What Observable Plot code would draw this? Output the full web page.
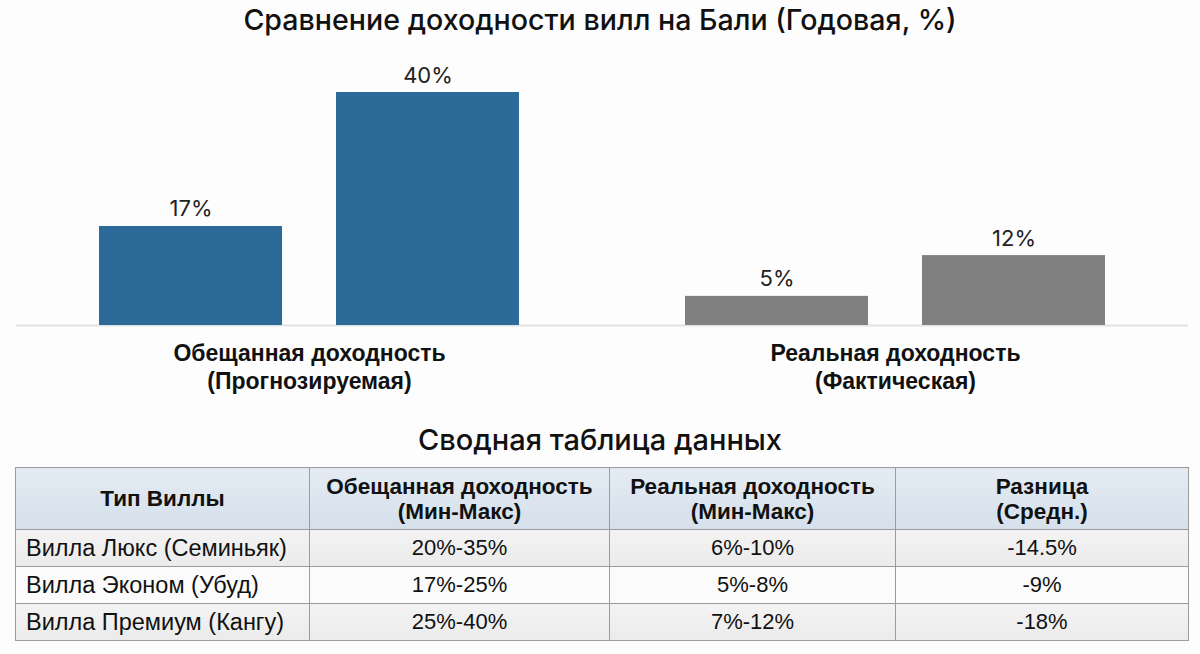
<!DOCTYPE html>
<html><head><meta charset="utf-8">
<script src="https://cdn.jsdelivr.net/npm/d3@7"></script>
<script src="https://cdn.jsdelivr.net/npm/@observablehq/plot@0.6"></script>
<style>
html,body{margin:0;padding:0;}
body{background:#fdfdfd;width:1200px;height:654px;position:relative;overflow:hidden;font-family:"Liberation Sans",Arial,sans-serif;color:#111;}
#title{position:absolute;left:0;top:0;width:1200px;height:44px;line-height:40px;text-align:center;font-family:Inter,sans-serif;font-weight:500;font-size:28.6px;color:#111;}
#chart{position:absolute;left:0;top:44px;}
#ttitle{position:absolute;left:0;top:412px;width:1200px;line-height:56px;text-align:center;font-family:Inter,sans-serif;font-weight:500;font-size:29px;color:#111;}
#tbl{position:absolute;left:15px;top:467px;border-collapse:collapse;table-layout:fixed;font-family:"Liberation Sans",Arial,sans-serif;}
#tbl td,#tbl th{border:1px solid #9c9c9c;padding:0;vertical-align:middle;}
#tbl th{height:61px;font-size:22.5px;font-weight:bold;line-height:25px;white-space:pre-line;text-align:center;background:linear-gradient(#e4ebf3,#d5e0eb);color:#111;}
#tbl td{height:36px;font-size:22px;text-align:center;color:#111;}
#tbl td.first{text-align:left;padding-left:10px;font-size:23.5px;}
#tbl tr.odd td{background:linear-gradient(#f3f3f3,#ebebeb);}
#tbl tr.even td{background:#fbfbfb;}
</style></head>
<body>
<div id="title"></div>
<div id="chart"></div>
<div id="ttitle"></div>
<table id="tbl"></table>
<script>
const chartTitle = "Сравнение доходности вилл на Бали (Годовая, %)";
const groups = ["Обещанная доходность\n(Прогнозируемая)", "Реальная доходность\n(Фактическая)"];
const bounds = ["Мин", "Макс"];
const promisedValues = [17, 40];
const actualValues = [5, 12];
const groupColors = ["#2c6a9a", "#808080"];

const tableTitle = "Сводная таблица данных";
const columns = ["Тип Виллы", "Обещанная доходность\n(Мин-Макс)", "Реальная доходность\n(Мин-Макс)", "Разница\n(Средн.)"];
const villaTypes = ["Вилла Люкс (Семиньяк)", "Вилла Эконом (Убуд)", "Вилла Премиум (Кангу)"];
const promisedRanges = ["20%-35%", "17%-25%", "25%-40%"];
const actualRanges = ["6%-10%", "5%-8%", "7%-12%"];
const differences = ["-14.5%", "-9%", "-18%"];
const columnWidths = [294, 300, 286, 293];

document.getElementById("title").textContent = chartTitle;
document.getElementById("ttitle").textContent = tableTitle;

const seriesValues = [promisedValues, actualValues];
const rows = [];
groups.forEach((g, i) => bounds.forEach((b, j) => rows.push({group: g, bound: b, value: seriesValues[i][j]})));

const chart = Plot.plot({
  width: 1200,
  height: 366,
  marginLeft: 15,
  marginRight: 12,
  marginTop: 48,
  marginBottom: 85,
  fx: {domain: groups, padding: 0, axis: null},
  x: {domain: bounds, paddingInner: 0.227, paddingOuter: 0.349, axis: null},
  y: {domain: [0, 40], axis: null},
  color: {domain: groups, range: groupColors},
  style: {background: "transparent", fontFamily: "Inter, sans-serif", overflow: "visible"},
  marks: [
    Plot.ruleY([0], {stroke: "#e3e3e3", strokeWidth: 2}),
    Plot.barY(rows, {fx: "group", x: "bound", y: "value", fill: "group"}),
    Plot.text(rows, {fx: "group", x: "bound", y: "value", text: d => d.value + "%", lineAnchor: "bottom", dy: -10, fontSize: 22, fontFamily: "Inter, sans-serif", fill: "#222"}),
    Plot.text(groups, {fx: d => d, text: d => d, frameAnchor: "bottom", lineAnchor: "top", dy: 16, fontSize: 23, fontWeight: "bold", lineHeight: 1.22, fontFamily: "Liberation Sans, Arial, sans-serif", fill: "#111"})
  ]
});
document.getElementById("chart").appendChild(chart);

const tbl = document.getElementById("tbl");
const cg = document.createElement("colgroup");
columnWidths.forEach(w => { const c = document.createElement("col"); c.style.width = w + "px"; cg.appendChild(c); });
tbl.appendChild(cg);
const hr = document.createElement("tr");
columns.forEach(c => { const th = document.createElement("th"); th.textContent = c; hr.appendChild(th); });
tbl.appendChild(hr);
villaTypes.forEach((v, i) => {
  const tr = document.createElement("tr");
  tr.className = i % 2 === 0 ? "odd" : "even";
  [v, promisedRanges[i], actualRanges[i], differences[i]].forEach((t, k) => {
    const td = document.createElement("td");
    td.textContent = t;
    if (k === 0) td.className = "first";
    tr.appendChild(td);
  });
  tbl.appendChild(tr);
});
</script>
</body></html>
